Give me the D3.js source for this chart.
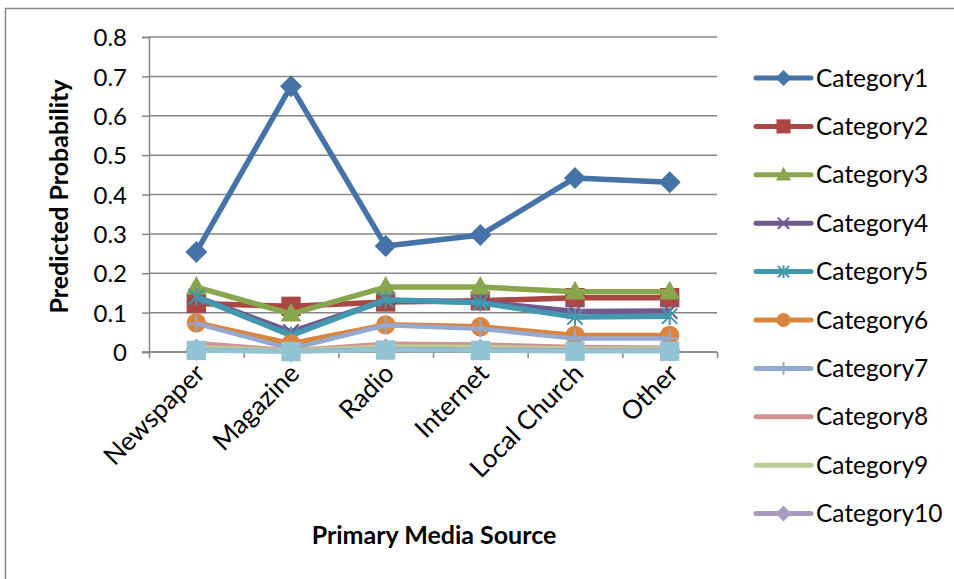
<!DOCTYPE html>
<html>
<head>
<meta charset="utf-8">
<title>Predicted Probability by Primary Media Source</title>
<script src="https://cdn.jsdelivr.net/npm/d3@7"></script>
<style>
  body { margin: 0; background: #fff; }
  svg { display: block; font-family: Lato, "Noto Sans", sans-serif; }
</style>
</head>
<body>
<div id="chart"></div>
<script>
// media sources along the x axis
var sources = ["Newspaper", "Magazine", "Radio", "Internet", "Local Church", "Other"];

// predicted probability, one array per category
var category1  = [0.254, 0.675, 0.269, 0.297, 0.442, 0.431];
var category2  = [0.123, 0.116, 0.127, 0.130, 0.138, 0.138];
var category3  = [0.165, 0.097, 0.165, 0.165, 0.153, 0.153];
var category4  = [0.140, 0.051, 0.131, 0.127, 0.103, 0.104];
var category5  = [0.140, 0.042, 0.133, 0.125, 0.089, 0.091];
var category6  = [0.074, 0.021, 0.069, 0.064, 0.042, 0.042];
var category7  = [0.072, 0.008, 0.068, 0.059, 0.034, 0.034];
var category8  = [0.023, 0.004, 0.021, 0.019, 0.013, 0.011];
var category9  = [0.013, 0.003, 0.014, 0.013, 0.008, 0.008];
var category10 = [0.006, 0.001, 0.007, 0.006, 0.004, 0.004];
var category11 = [0.004, 0.001, 0.005, 0.004, 0.002, 0.002];

var seriesNames = ["Category1", "Category2", "Category3", "Category4", "Category5",
                   "Category6", "Category7", "Category8", "Category9", "Category10", "Category11"];
var seriesValues = [category1, category2, category3, category4, category5,
                    category6, category7, category8, category9, category10, category11];
var yTicks = [0, 0.1, 0.2, 0.3, 0.4, 0.5, 0.6, 0.7, 0.8];

var colors  = ["#4572A7", "#AA4643", "#89A54E", "#71588F", "#4198AF", "#DB843D",
               "#93A9CF", "#D19392", "#B9CD96", "#A99BBD", "#91C3D5"];
var markers = ["diamond", "square", "triangle", "x", "star", "circle", "plus", "none", "none", "diamond", "square"];
var legendCount = 10; // the legend box only fits the first ten

var width = 954, height = 579;
var plot = { left: 149, right: 717, top: 37, bottom: 352 };

var svg = d3.select("#chart").append("svg")
    .attr("width", width)
    .attr("height", height);

// outer chart frame
svg.append("rect")
    .attr("x", 5.5).attr("y", 8.5)
    .attr("width", 1000).attr("height", 700)
    .attr("fill", "#fff")
    .attr("stroke", "#868686")
    .attr("stroke-width", 1.5);

var x = d3.scalePoint().domain(sources).range([plot.left, plot.right]).padding(0.5);
var xb = d3.scaleLinear().domain([0, sources.length]).range([plot.left, plot.right]);
var y = d3.scaleLinear().domain([0, 0.8]).range([plot.bottom, plot.top]);

// gridlines
svg.append("g")
    .selectAll("line")
    .data(yTicks)
    .enter().append("line")
    .attr("x1", plot.left).attr("x2", plot.right)
    .attr("y1", function(d) { return y(d); })
    .attr("y2", function(d) { return y(d); })
    .attr("stroke", "#868686")
    .attr("stroke-width", 1.5);

// y axis
var yAxis = svg.append("g")
    .attr("transform", "translate(" + plot.left + ",0)")
    .call(d3.axisLeft(y).tickValues(yTicks).tickSize(7).tickPadding(15)
        .tickFormat(function(d) { return d === 0 ? "0" : d3.format(".1f")(d); }));
yAxis.select(".domain").attr("stroke", "#868686").attr("stroke-width", 1.5);
yAxis.selectAll(".tick line").attr("stroke", "#868686").attr("stroke-width", 1.5);
yAxis.selectAll("text").attr("font-size", 24).attr("fill", "#000")
    .attr("font-family", "Lato, sans-serif").attr("dy", "0.36em");

// x axis (ticks between categories)
var xAxis = svg.append("g")
    .attr("transform", "translate(0," + plot.bottom + ")")
    .call(d3.axisBottom(xb).tickValues(d3.range(sources.length + 1)).tickSize(6).tickFormat(""));
xAxis.select(".domain").attr("stroke", "#868686").attr("stroke-width", 1.5)
    .attr("d", "M" + (plot.left - 7) + ",0H" + plot.right);
xAxis.selectAll(".tick line").attr("stroke", "#868686").attr("stroke-width", 1.5);

// rotated category labels
svg.append("g")
    .selectAll("text")
    .data(sources)
    .enter().append("text")
    .attr("transform", function(d) { return "translate(" + (x(d) + 10) + "," + (plot.bottom + 23) + ") rotate(-45)"; })
    .attr("text-anchor", "end")
    .attr("font-size", 26)
    .text(function(d) { return d; });

// axis titles
svg.append("text")
    .attr("transform", "translate(68," + ((plot.top + plot.bottom) / 2 + 2) + ") rotate(-90)")
    .attr("text-anchor", "middle")
    .attr("font-size", 25)
    .attr("font-weight", "bold")
    .text("Predicted Probability");

svg.append("text")
    .attr("x", 434).attr("y", 544)
    .attr("text-anchor", "middle")
    .attr("font-size", 25)
    .attr("font-weight", "bold")
    .text("Primary Media Source");

// marker drawing
function drawMarker(sel, type, color, s) {
    var h = s / 2;
    if (type === "diamond") {
        sel.append("path").attr("d", "M0," + (-h) + "L" + h + ",0L0," + h + "L" + (-h) + ",0Z").attr("fill", color);
    } else if (type === "square") {
        sel.append("rect").attr("x", -h * 0.88).attr("y", -h * 0.88).attr("width", s * 0.88).attr("height", s * 0.88).attr("fill", color);
    } else if (type === "triangle") {
        sel.append("path").attr("d", "M0," + (-h) + "L" + (h * 0.95) + "," + (h * 0.7) + "L" + (-h * 0.95) + "," + (h * 0.7) + "Z").attr("fill", color);
    } else if (type === "circle") {
        sel.append("circle").attr("r", h * 0.88).attr("fill", color);
    } else if (type === "x" || type === "star" || type === "plus") {
        var k = h * 0.7, p = "";
        if (type !== "plus") p += "M" + (-k) + "," + (-k) + "L" + k + "," + k + "M" + (-k) + "," + k + "L" + k + "," + (-k);
        if (type !== "x") p += "M0," + (-h * 0.8) + "L0," + (h * 0.8);
        if (type === "plus") p += "M" + (-h * 0.8) + ",0L" + (h * 0.8) + ",0";
        sel.append("path").attr("d", p).attr("stroke", color).attr("stroke-width", 2).attr("fill", "none");
    }
}

var line = d3.line()
    .x(function(d, i) { return x(sources[i]); })
    .y(function(d) { return y(d); });

seriesValues.forEach(function(vals, si) {
    var g = svg.append("g").attr("class", "series");
    g.append("path")
        .datum(vals)
        .attr("d", line)
        .attr("fill", "none")
        .attr("stroke", colors[si])
        .attr("stroke-width", si < 6 ? 5.5 : 4.5)
        .attr("stroke-linejoin", "round");
    if (markers[si] !== "none") {
        g.selectAll("g.mk")
            .data(vals)
            .enter().append("g")
            .attr("class", "mk")
            .attr("transform", function(d, i) { return "translate(" + x(sources[i]) + "," + y(d) + ")"; })
            .each(function() { drawMarker(d3.select(this), markers[si], colors[si], 22); });
    }
});

// legend
var legend = svg.append("g")
    .selectAll("g")
    .data(seriesNames.slice(0, legendCount))
    .enter().append("g")
    .attr("transform", function(d, i) { return "translate(756," + (78 + i * 48.4) + ")"; });

legend.append("line")
    .attr("x1", 0).attr("x2", 55)
    .attr("stroke", function(d, i) { return colors[i]; })
    .attr("stroke-width", 5)
    .attr("stroke-linecap", "round");

legend.each(function(d, i) {
    if (markers[i] !== "none") {
        var m = d3.select(this).append("g").attr("transform", "translate(27.5,0)");
        drawMarker(m, markers[i], colors[i], 16);
    }
});

legend.append("text")
    .attr("x", 60)
    .attr("dy", "0.35em")
    .attr("font-size", 24.5)
    .text(function(d) { return d; });
</script>
</body>
</html>
